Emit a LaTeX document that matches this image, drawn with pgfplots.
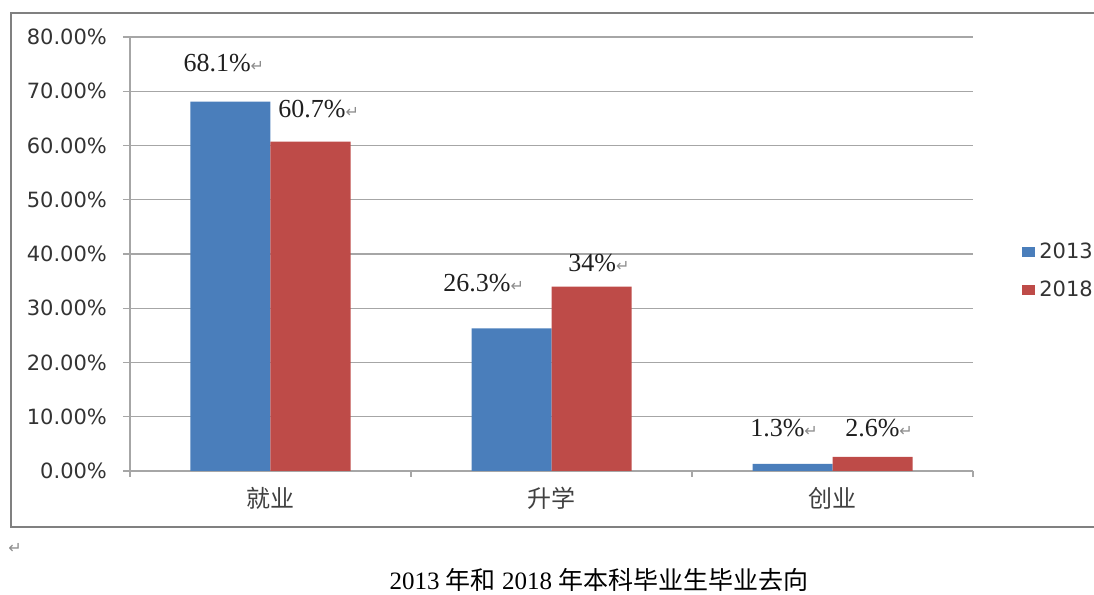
\documentclass[border=0pt]{standalone}
\usepackage{pgfplots}
\pgfplotsset{compat=1.18}
\usepackage{fontspec}
\setmainfont{Liberation Serif}
\newfontfamily\dv{DejaVu Sans}
\newfontfamily\cjk{Noto Sans CJK SC}
\definecolor{cblue}{HTML}{4A7EBB}
\definecolor{cred}{HTML}{BE4B48}
\definecolor{gridc}{HTML}{A6A6A6}
\newcommand\arr{{\dv\color{black!45}\fontsize{8}{8}\selectfont ↵}}
\begin{document}
\begin{tikzpicture}
\useasboundingbox (0pt,0pt) rectangle (547pt,297.5pt);
\draw[color=black!50, line width=1.1pt] (5.5pt,291pt) rectangle (552pt,34pt);
\begin{axis}[
  at={(65pt,62pt)}, anchor=south west,
  scale only axis, width=421.5pt, height=217pt,
  xmin=-0.5, xmax=2.5, ymin=0, ymax=80,
  ybar=0pt, bar width=40pt,
  axis x line*=bottom, axis y line*=left,
  axis line style={gridc, line width=0.7pt, -},
  ytick={0,10,...,80},
  yticklabels={0.00\%,10.00\%,20.00\%,30.00\%,40.00\%,50.00\%,60.00\%,70.00\%,80.00\%},
  yticklabel style={font=\dv\fontsize{10.5}{12}\selectfont, text=black!80, xshift=-4.5pt},
  ymajorgrids, grid style={gridc, line width=0.7pt},
  xtick={0,1,2},
  xticklabels={就业,升学,创业},
  xticklabel style={font=\cjk\fontsize{12}{14}\selectfont, text=black!75, yshift=-1pt},
  minor xtick={-0.5,0.5,1.5,2.5},
  tick align=outside,
  major tick length=3.5pt, minor tick length=3pt,
  major x tick style={draw=none},
  minor x tick style={gridc, line width=0.7pt},
  ytick style={gridc, line width=0.7pt},
  legend style={at={(axis description cs:1.058,0.461)}, anchor=west, draw=none, fill=none, inner sep=0pt,
    font=\dv\fontsize{10.5}{12}\selectfont, text=black!80, row sep=5.5pt},
  legend cell align=left,
  legend image code/.code={\fill[#1] (-2.5pt,-2.5pt) rectangle (4pt,2.5pt);},
]
\addplot[fill=cblue, draw=none] coordinates {(0,68.1) (1,26.3) (2,1.3)};
\addlegendentry{2013}
\addplot[fill=cred, draw=none] coordinates {(0,60.7) (1,34) (2,2.6)};
\addlegendentry{2018}
\begin{scope}[every node/.style={anchor=west, inner sep=0pt, font=\fontsize{13}{14}\selectfont, text=black!88}]
\node at (axis cs:-0.311,75.2) {68.1\%\arr};
\node at (axis cs:0.027,66.7) {60.7\%\arr};
\node at (axis cs:0.614,34.7) {26.3\%\arr};
\node at (axis cs:1.059,38.3) {34\%\arr};
\node at (axis cs:1.706,7.9) {1.3\%\arr};
\node at (axis cs:2.044,7.9) {2.6\%\arr};
\end{scope}
\end{axis}
\node[inner sep=0pt] at (7.5pt,23.5pt) {\arr};
\node[inner sep=0pt, font=\fontsize{12.5}{14}\selectfont] at (299.5pt,7.5pt) {2013 {\cjk 年和} 2018 {\cjk 年本科毕业生毕业去向}};
\end{tikzpicture}
\end{document}
